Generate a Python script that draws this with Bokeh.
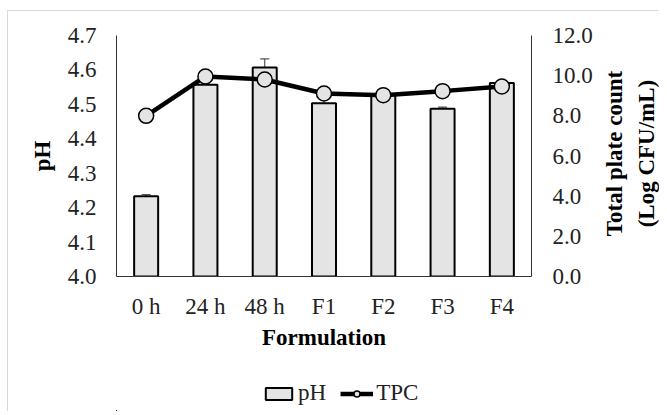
import math
from bokeh.plotting import figure
from bokeh.layouts import column, row
from bokeh.models import (FactorRange, Range1d, LinearAxis, FixedTicker,
                          NumeralTickFormatter, Whisker, ColumnDataSource,
                          Legend, LegendItem, TeeHead, Label)
from bokeh.embed import file_html
from bokeh.resources import INLINE

categories = ["0 h", "24 h", "48 h", "F1", "F2", "F3", "F4"]
ph = [4.233, 4.557, 4.607, 4.503, 4.530, 4.487, 4.562]
ph_err = [0.005, 0.005, 0.025, 0.017, 0.005, 0.005, 0.005]
tpc = [8.00, 9.96, 9.81, 9.11, 9.03, 9.23, 9.46]
ph_ticks = [4.0, 4.1, 4.2, 4.3, 4.4, 4.5, 4.6, 4.7]
tpc_ticks = [0, 2, 4, 6, 8, 10, 12]
right_title = "Total plate count\n(Log CFU/mL)"

FONT = "Liberation Serif"
TICK_FS = "23px"
TITLE_FS = "23px"
BAR_FILL = "#e4e4e4"

src = ColumnDataSource(dict(
    cat=categories, ph=ph, tpc=tpc,
    upper=[v + e for v, e in zip(ph, ph_err)],
    lower=[v - e for v, e in zip(ph, ph_err)],
))

def blank(fig):
    fig.axis.visible = False
    fig.xgrid.visible = False
    fig.ygrid.visible = False
    fig.outline_line_color = None
    fig.border_fill_color = "white"
    fig.background_fill_color = "white"

# ---------------- main chart ----------------
p = figure(x_range=FactorRange(*categories), y_range=Range1d(4.0, 4.7),
           width=590, height=360, output_backend="svg", toolbar_location=None,
           min_border_left=108, min_border_right=67, min_border_top=24,
           min_border_bottom=95)
p.extra_y_ranges = {"tpc": Range1d(0, 12)}

p.outline_line_color = None
p.xgrid.visible = False
p.ygrid.visible = False
p.background_fill_color = "white"
p.border_fill_color = "white"

bars = p.vbar(x="cat", top="ph", bottom=4.0, width=0.405, source=src,
              fill_color=BAR_FILL, line_color="black", line_width=2)

wh = Whisker(base="cat", upper="upper", lower="lower", source=src,
             line_color="#555555", line_width=1.2,
             upper_head=TeeHead(size=9, line_color="#555555", line_width=1.2),
             lower_head=TeeHead(size=9, line_color="#555555", line_width=1.2))
p.add_layout(wh)

ln = p.line(x="cat", y="tpc", source=src, y_range_name="tpc",
            line_color="black", line_width=4.5)
sc = p.scatter(x="cat", y="tpc", source=src, y_range_name="tpc", size=15,
               marker="circle", fill_color=BAR_FILL, line_color="black",
               line_width=1.5)

def style_axis(ax):
    ax.axis_label_text_font = FONT
    ax.axis_label_text_font_style = "bold"
    ax.axis_label_text_font_size = TITLE_FS
    ax.axis_label_text_color = "black"
    ax.major_label_text_font = FONT
    ax.major_label_text_font_size = TICK_FS
    ax.major_label_text_color = "#222222"
    ax.major_tick_out = 0
    ax.major_tick_in = 0
    ax.minor_tick_out = 0
    ax.minor_tick_in = 0
    ax.axis_line_color = "#333333"

ya = p.yaxis[0]
style_axis(ya)
ya.ticker = FixedTicker(ticks=ph_ticks)
ya.formatter = NumeralTickFormatter(format="0.0")
ya.axis_label = "pH"
ya.axis_label_standoff = 10
ya.major_label_standoff = 20

ra = LinearAxis(y_range_name="tpc", ticker=FixedTicker(ticks=tpc_ticks),
                formatter=NumeralTickFormatter(format="0.0"))
style_axis(ra)
ra.major_label_standoff = 21
p.add_layout(ra, "right")

xa = p.xaxis[0]
style_axis(xa)
xa.axis_label = "Formulation"
xa.axis_label_standoff = 3
xa.major_label_standoff = 17

# ---------------- right-hand title (reads bottom to top) ----------------
rt = figure(width=61, height=360, output_backend="svg", toolbar_location=None,
            x_range=Range1d(0, 1), y_range=Range1d(0, 1),
            min_border_left=0, min_border_right=0, min_border_top=24,
            min_border_bottom=95)
blank(rt)
rt.add_layout(Label(x=32, y=123, x_units="screen", y_units="screen",
                    text=right_title, angle=math.pi / 2,
                    text_align="center", text_baseline="middle",
                    text_font=FONT, text_font_style="bold",
                    text_font_size=TITLE_FS, text_color="black",
                    text_line_height=1.25))

# ---------------- legend strip ----------------
# the strip's ranges lie far away from the data, so the proxies stay unseen
lg = figure(width=590, height=40, output_backend="svg", toolbar_location=None,
            x_range=Range1d(10, 11), y_range=Range1d(100, 101),
            min_border_left=0, min_border_right=0, min_border_top=0,
            min_border_bottom=0)
blank(lg)
lb = lg.vbar(x="ph", top="tpc", bottom="tpc", width=0.1, source=src,
             fill_color=BAR_FILL, line_color="black", line_width=2)
ll = lg.line(x="ph", y="tpc", source=src, line_color="black", line_width=4.5)
ls = lg.scatter(x="ph", y="tpc", source=src, size=13, marker="circle",
                fill_color=BAR_FILL, line_color="black", line_width=1.5)

legend = Legend(items=[LegendItem(label="pH", renderers=[lb]),
                       LegendItem(label="TPC", renderers=[ll, ls])],
                orientation="horizontal", location=(146, 5),
                glyph_width=33, glyph_height=15, label_standoff=3,
                spacing=14, padding=0, margin=0,
                label_text_font=FONT, label_text_font_size=TICK_FS,
                label_text_color="#222222",
                border_line_color=None, background_fill_alpha=0)
lg.add_layout(legend, "center")

layout = row(column(p, lg, spacing=0), rt, spacing=0)
layout.styles = {"border-top": "1px solid #d9d9d9",
                 "border-left": "1px solid #d9d9d9",
                 "margin-left": "7px", "margin-top": "10px"}

open("out.html", "w").write(file_html(layout, INLINE))
